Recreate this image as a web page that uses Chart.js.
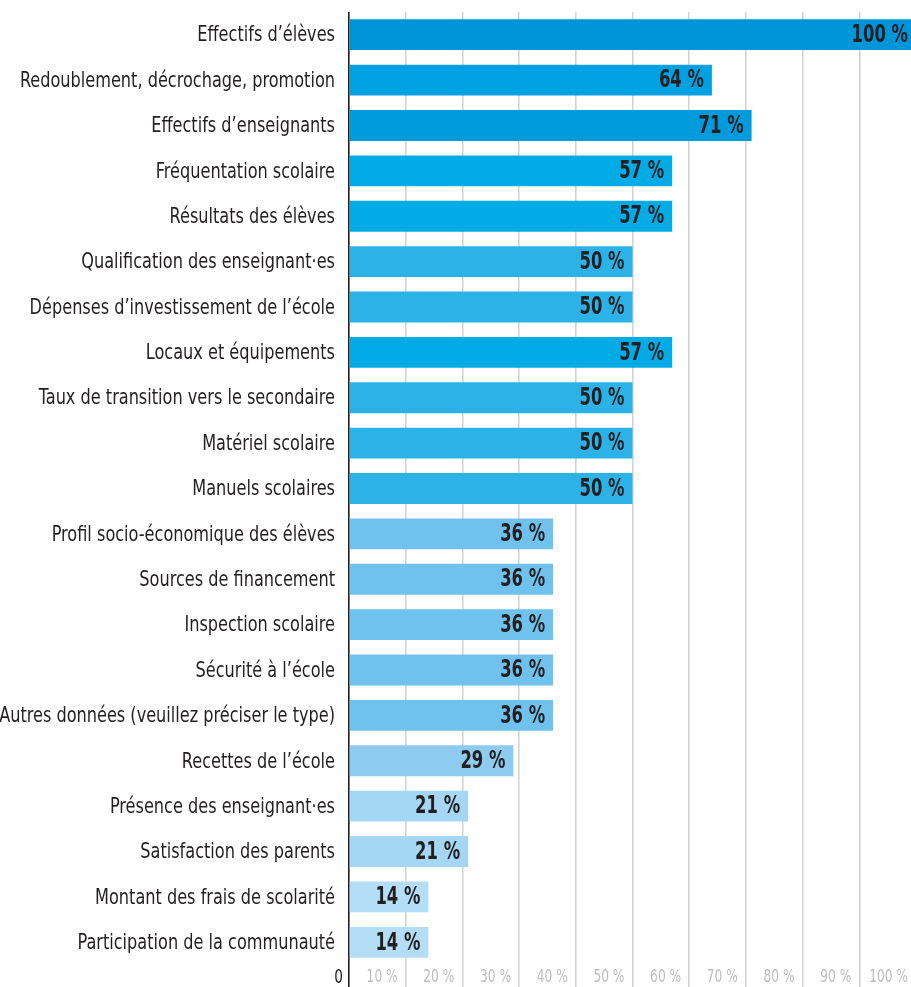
<!DOCTYPE html>
<html>
<head>
<meta charset="utf-8">
<script src="https://cdn.jsdelivr.net/npm/chart.js@4.4.1/dist/chart.umd.min.js"></script>
<style>
  html, body { margin: 0; padding: 0; background: #fff; overflow: hidden; }
  #wrap { width: 916px; height: 987px; }
</style>
</head>
<body>
<div id="wrap"><canvas id="myChart"></canvas></div>
<script>
const categories = [
  'Effectifs d’élèves',
  'Redoublement, décrochage, promotion',
  'Effectifs d’enseignants',
  'Fréquentation scolaire',
  'Résultats des élèves',
  'Qualification des enseignant·es',
  'Dépenses d’investissement de l’école',
  'Locaux et équipements',
  'Taux de transition vers le secondaire',
  'Matériel scolaire',
  'Manuels scolaires',
  'Profil socio-économique des élèves',
  'Sources de financement',
  'Inspection scolaire',
  'Sécurité à l’école',
  'Autres données (veuillez préciser le type)',
  'Recettes de l’école',
  'Présence des enseignant·es',
  'Satisfaction des parents',
  'Montant des frais de scolarité',
  'Participation de la communauté'
];
const values = [100, 64, 71, 57, 57, 50, 50, 57, 50, 50, 50, 36, 36, 36, 36, 36, 29, 21, 21, 14, 14];
const tickValues = [0, 10, 20, 30, 40, 50, 60, 70, 80, 90, 100];
const tickLabels = ['0', '10 %', '20 %', '30 %', '40 %', '50 %', '60 %', '70 %', '80 %', '90 %', '100 %'];

const FONT = '"DejaVu Sans Condensed", "Liberation Sans Narrow", "Roboto", sans-serif';
const DARK = '#231f20';

function colorFor(v) {
  if (v >= 100) return '#0095d9';
  if (v >= 70) return '#009bdd';
  if (v >= 60) return '#00a1e2';
  if (v >= 55) return '#00abe6';
  if (v >= 45) return '#2bb3e8';
  if (v >= 33) return '#6fc2ed';
  if (v >= 25) return '#8dccf0';
  if (v >= 18) return '#a5d7f4';
  return '#b3def6';
}

// draw right-aligned text squeezed horizontally (condensed look)
function narrowText(ctx, text, x, y, sx) {
  ctx.save();
  ctx.translate(x, y);
  ctx.scale(sx, 1);
  ctx.textAlign = 'right';
  ctx.textBaseline = 'middle';
  ctx.fillText(text, 0, 0);
  ctx.restore();
}

const textLayer = {
  id: 'textLayer',
  afterDraw(chart) {
    const ctx = chart.ctx;
    const xs = chart.scales.x;
    const ys = chart.scales.y;

    // category labels
    ctx.save();
    ctx.font = '22px ' + FONT;
    ctx.fillStyle = DARK;
    categories.forEach((c, i) => {
      narrowText(ctx, c, xs.left - 14, ys.getPixelForValue(i) + 1, 0.815);
    });

    // value labels
    ctx.font = 'bold 24px ' + FONT;
    const meta = chart.getDatasetMeta(0);
    meta.data.forEach((bar, i) => {
      narrowText(ctx, values[i] + ' %', bar.x - 8, bar.y + 1, 0.76);
    });

    // axis tick labels
    tickValues.forEach((v, i) => {
      const x = xs.getPixelForValue(v);
      ctx.font = (v === 0 ? 19 : 17) + 'px ' + FONT;
      ctx.fillStyle = v === 0 ? DARK : '#bdbdbd';
      narrowText(ctx, tickLabels[i], x - (v === 0 ? 6 : 8), 978, 0.8);
    });
    ctx.restore();
  }
};

const ctx = document.getElementById('myChart');
new Chart(ctx, {
  type: 'bar',
  data: {
    labels: categories,
    datasets: [{
      data: values,
      backgroundColor: values.map(colorFor),
      borderWidth: 0,
      barPercentage: 0.68,
      categoryPercentage: 1
    }]
  },
  options: {
    indexAxis: 'y',
    responsive: true,
    maintainAspectRatio: false,
    animation: false,
    layout: { padding: { top: 12, right: 0, bottom: 0, left: 0 } },
    plugins: { legend: { display: false }, tooltip: { enabled: false } },
    scales: {
      x: {
        min: 0,
        max: 100,
        afterBuildTicks(scale) {
          scale.ticks = tickValues.map(v => ({ value: v }));
        },
        afterFit(scale) { scale.height = 22; },
        border: { display: false },
        grid: {
          drawTicks: true,
          tickLength: 22,
          color: c => (c.tick && c.tick.value === 0) ? DARK : '#d3d3d3',
          lineWidth: 1.6
        },
        ticks: { display: false }
      },
      y: {
        afterFit(scale) { scale.width = 349; },
        border: { display: false },
        grid: { display: false, drawTicks: false },
        ticks: { display: false }
      }
    }
  },
  plugins: [textLayer]
});
</script>
</body>
</html>
